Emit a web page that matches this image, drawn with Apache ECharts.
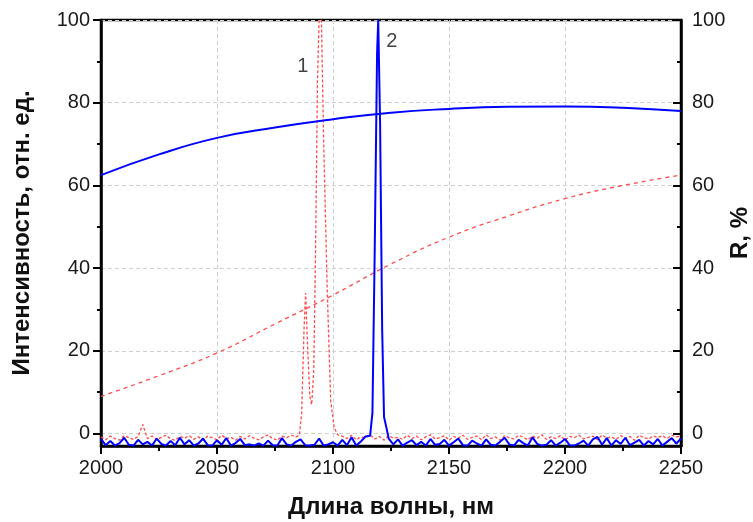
<!DOCTYPE html>
<html>
<head>
<meta charset="utf-8">
<script src="https://cdn.jsdelivr.net/npm/echarts@6/dist/echarts.min.js"></script>
<style>
  html, body { margin: 0; padding: 0; background: #fff; }
  #chart { width: 753px; height: 522px; }
</style>
</head>
<body>
<div id="chart"></div>
<script>
// ось Y: подписи и мелкие деления
const yTicks = [0, 20, 40, 60, 80, 100];
const yMinorTicks = [10, 30, 50, 70, 90];

// спектр 2 (синий): шум до пика, пик, шум после пика (шаг 2 нм)
const blueNoiseA = [
  -1.3, -2.8, -1.8, -2.9, -2.3, -1.0, -2.7, -2.9, -1.5, -2.6,
  -2.0, -2.9, -1.2, -2.5, -2.9, -1.8, -2.8, -1.0, -2.6, -1.6,
  -2.9, -2.4, -1.2, -2.8, -2.9, -1.6, -2.7, -1.1, -2.9, -2.3,
  -1.3, -2.8, -2.6, -2.9, -2.4, -2.9, -1.7, -2.8, -2.9, -1.1,
  -2.6, -2.9, -2.0, -1.4, -2.8, -2.9, -2.7, -1.2, -2.9, -2.6,
  -2.1, -2.9, -1.5, -2.8, -0.9, -2.9, -1.9, -0.7
]; // 2000..2114
const bluePeakWl = [2116, 2117, 2118, 2119, 2119.5, 2120.3, 2121.2, 2122, 2123, 2124];
const bluePeak = [-0.5, 5, 45, 92, 100, 75, 25, 4, 1.5, -1.2];
const blueNoiseB = [
  -2.6, -1.4, -2.9, -2.2, -1.6, -2.8, -2.0, -2.9, -1.3, -2.7,
  -2.5, -1.5, -2.9, -2.1, -1.2, -2.8, -2.9, -1.7, -2.4, -2.9,
  -1.4, -2.7, -2.9, -2.0, -1.0, -2.6, -2.9, -1.5, -2.3, -2.9,
  -0.9, -2.5, -2.9, -2.7, -1.6, -2.9, -2.2, -1.3, -2.8, -2.9,
  -2.4, -1.7, -2.9, -1.4, -0.8, -2.7, -1.1, -2.9, -1.6, -2.5,
  -1.0, -2.8, -2.2, -1.5, -2.9, -1.8, -2.6, -1.3, -2.9, -2.0,
  -1.1, -2.4, -1.2
]; // 2126..2250

// спектр 1 (красный пунктир)
const redNoiseA = [
  -0.8, -1.5, -0.6, -1.2, -1.6, -0.5, -1.0, -1.4, -0.7, 2.2,
  -1.2, -0.6, -1.5, -0.9, -0.4, -1.3, -1.6, -0.7, -1.1, -0.5,
  -1.4, -0.8, -1.6, -0.6, -1.0, -1.5, -0.4, -1.2, -0.9, -1.6,
  -0.7, -1.3, -0.5, -1.1, -1.5, -0.8, -0.3, -1.2, -1.6, -0.6,
  -1.0, -0.4, -0.8
]; // 2000..2084
const redPeakWl = [2085.5, 2086.5, 2087.5, 2088.2, 2089, 2090, 2090.8, 2091.7, 2092.5, 2093.3, 2094, 2095, 2096, 2097.5, 2099, 2100.5, 2102];
const redPeak = [-0.4, 5, 25, 34, 22, 9, 7, 15, 45, 85, 100, 100, 70, 35, 8, 1.5, -0.3];
const redNoiseB = [
  -0.6, -1.2, -0.4, -1.5, -0.8, -1.0, -0.3, -1.3, -0.7, -1.6,
  -0.5, -1.1, -0.9, -1.4, -0.4, -1.2, -0.6, -1.5, -0.8, -0.3,
  -1.3, -1.0, -0.5, -1.6, -0.7, -1.1, -0.4, -1.4, -0.9, -0.6,
  -1.5, -0.3, -1.2, -0.8, -1.6, -0.5, -1.0, -1.3, -0.4, -0.9,
  -1.5, -0.6, -1.1, -0.3, -1.4, -0.8, -1.2, -0.5, -1.6, -0.7,
  -1.0, -0.4, -1.3, -0.9, -0.6, -1.5, -0.3, -1.1, -0.8, -1.4,
  -0.5, -1.2, -0.7, -1.6, -0.4, -1.0, -1.3, -0.6, -0.9, -0.5,
  -1.2, -0.4, -0.8, -0.6
]; // 2104..2250

// коэффициент отражения R, %
const reflWl = [2000, 2025, 2050, 2075, 2100, 2125, 2150, 2175, 2200, 2225, 2250];
const reflBlue = [62.5, 67.5, 71.5, 74.0, 76.0, 77.6, 78.5, 79.0, 79.1, 78.8, 78.0];
const reflRed = [9.0, 14.0, 19.5, 26.5, 33.5, 41.0, 47.5, 52.5, 56.8, 60.0, 62.5];

// номера спектров
const peakLabels = [
  { text: '1', x: 2087, y: 88.8 },
  { text: '2', x: 2125.4, y: 94.8 }
];

function steps(start, vals) {
  return vals.map((v, i) => [start + 2 * i, v]);
}
function pairs(xs, ys) {
  return xs.map((x, i) => [x, ys[i]]);
}

const blueData = steps(2000, blueNoiseA).concat(pairs(bluePeakWl, bluePeak), steps(2126, blueNoiseB));
const redData = steps(2000, redNoiseA).concat(pairs(redPeakWl, redPeak), steps(2104, redNoiseB));

const FONT = 'Liberation Sans, Arial, sans-serif';
const titleStyle = { fontSize: 24, fontWeight: 'bold', color: '#111', fontFamily: FONT };
const chart = echarts.init(document.getElementById('chart'));

function yAxisBase(pos, minor) {
  return {
    type: 'value',
    position: pos,
    min: -3,
    max: 100,
    axisLine: { show: !minor, lineStyle: { color: '#000', width: 2.5 } },
    axisTick: {
      show: true,
      inside: pos === 'right',
      length: minor ? 4 : 8,
      customValues: minor ? yMinorTicks : yTicks,
      lineStyle: { color: '#000', width: 2 }
    },
    axisLabel: {
      show: !minor,
      customValues: yTicks,
      margin: 11,
      fontSize: 20,
      color: '#1a1a1a',
      fontFamily: FONT
    },
    splitLine: { show: false }
  };
}

const leftMain = yAxisBase('left', false);
leftMain.splitLine = { show: true, lineStyle: { color: '#cfcfcf', type: [4, 3], width: 1 } };
leftMain.name = 'Интенсивность, отн. ед.';
leftMain.nameLocation = 'middle';
leftMain.nameRotate = 90;
leftMain.nameGap = 67;
leftMain.nameMoveOverlap = false;
leftMain.nameTextStyle = titleStyle;

const rightMain = yAxisBase('right', false);
rightMain.name = 'R, %';
rightMain.nameLocation = 'middle';
rightMain.nameRotate = 90;
rightMain.nameGap = 47;
rightMain.nameMoveOverlap = false;
rightMain.nameTextStyle = titleStyle;

chart.setOption({
  animation: false,
  backgroundColor: '#fff',
  grid: {
    left: 101, right: 72, top: 20, bottom: 76,
    outerBoundsMode: 'none',
    containLabel: false,
    show: true, borderColor: '#000', borderWidth: 2.5, backgroundColor: 'transparent'
  },
  xAxis: {
    type: 'value',
    min: 2000,
    max: 2250,
    interval: 50,
    name: 'Длина волны, нм',
    nameLocation: 'middle',
    nameGap: 49,
    nameMoveOverlap: false,
    nameTextStyle: titleStyle,
    axisLine: { show: true, onZero: false, lineStyle: { color: '#000', width: 2.5 } },
    axisTick: { show: true, length: 8, lineStyle: { color: '#000', width: 2 } },
    minorTick: { show: true, splitNumber: 2, length: 5, lineStyle: { color: '#000', width: 2 } },
    axisLabel: {
      margin: 12, fontSize: 20, color: '#1a1a1a', fontFamily: FONT,
      formatter: v => String(v)
    },
    splitLine: { show: true, lineStyle: { color: '#cfcfcf', type: [4, 3], width: 1 } }
  },
  yAxis: [
    leftMain,
    rightMain,
    yAxisBase('left', true),
    yAxisBase('right', true)
  ],
  series: [
    {
      name: 'R1',
      type: 'line',
      data: pairs(reflWl, reflRed),
      smooth: true,
      showSymbol: false,
      lineStyle: { color: '#ff4d4d', width: 1.3, type: [4, 4] },
      z: 2
    },
    {
      name: 'S1',
      type: 'line',
      data: redData,
      showSymbol: false,
      lineStyle: { color: '#ff4d4d', width: 1.3, type: [3, 2] },
      z: 2
    },
    {
      name: 'R2',
      type: 'line',
      data: pairs(reflWl, reflBlue),
      smooth: true,
      showSymbol: false,
      lineStyle: { color: '#0000ff', width: 2 },
      z: 3
    },
    {
      name: 'S2',
      type: 'line',
      data: blueData,
      showSymbol: false,
      lineStyle: { color: '#0000ff', width: 2 },
      z: 3
    },
    {
      name: 'labels',
      type: 'scatter',
      data: peakLabels.map(p => ({ value: [p.x, p.y], name: p.text })),
      symbolSize: 2,
      itemStyle: { color: 'rgba(0,0,0,0)' },
      label: {
        show: true, position: 'inside', formatter: '{b}',
        fontSize: 20, color: '#111', fontFamily: FONT
      },
      z: 5
    }
  ]
});
</script>
</body>
</html>
